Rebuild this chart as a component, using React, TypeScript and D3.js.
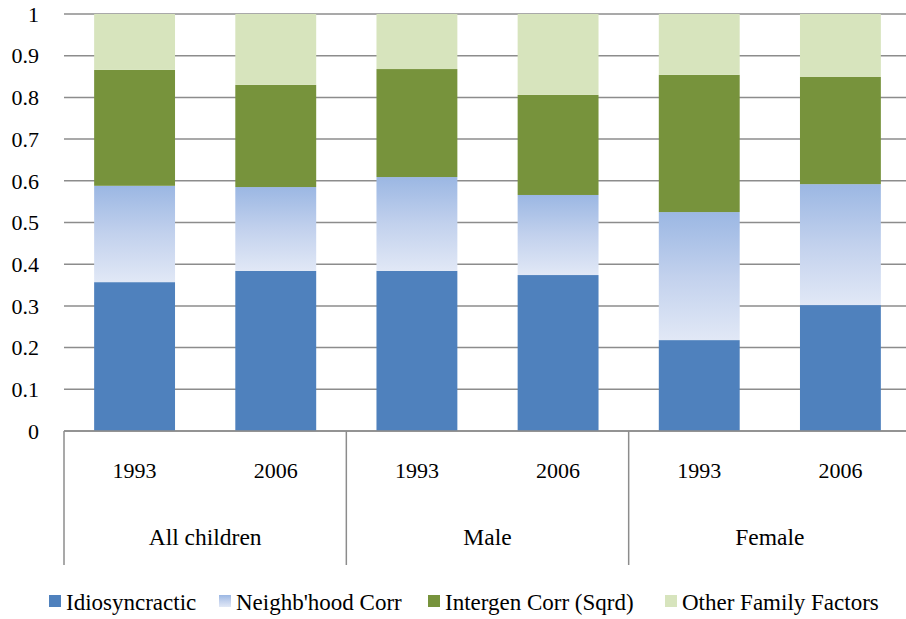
import React from "react";
import * as d3 from "d3";

const groups = ["All children", "Male", "Female"];
const years = ["1993", "2006"];
const categories = ["All children|1993", "All children|2006", "Male|1993", "Male|2006", "Female|1993", "Female|2006"];
const seriesNames = ["Idiosyncractic", "Neighb'hood Corr", "Intergen Corr (Sqrd)", "Other Family Factors"];
const idiosyncratic = [0.357, 0.384, 0.384, 0.374, 0.218, 0.302];
const neighbourhood = [0.231, 0.201, 0.225, 0.192, 0.307, 0.290];
const intergen = [0.278, 0.245, 0.259, 0.240, 0.329, 0.257];
const otherFamily = [0.134, 0.170, 0.132, 0.194, 0.146, 0.151];
const yTicks = [0, 0.1, 0.2, 0.3, 0.4, 0.5, 0.6, 0.7, 0.8, 0.9, 1];

const W = 906, H = 619;
const left = 64, right = 911, top = 14, bottom = 431;
const FONT = "'Liberation Serif', 'Times New Roman', serif";

export default function App() {
  const x = d3.scaleBand().domain(categories).range([left, right]).paddingInner(0.427).paddingOuter(0.2135);
  const y = d3.scaleLinear().domain([0, 1]).range([bottom, top]);
  const rows = categories.map((c, i) => ({
    cat: c,
    s0: idiosyncratic[i],
    s1: neighbourhood[i],
    s2: intergen[i],
    s3: otherFamily[i],
  }));
  const stack = d3.stack<any>().keys(["s0", "s1", "s2", "s3"])(rows);
  const fills = ["#4F81BD", "url(#nbGrad)", "#77933C", "#D7E4BD"];
  const catW = (right - left) / categories.length;
  const groupW = catW * 2;

  const legendX = [49, 219, 428, 665];

  return (
    <svg width={W} height={H} style={{ position: "absolute", left: 0, top: 0, background: "#fff" }} fontFamily={FONT}>
      <defs>
        <linearGradient id="nbGrad" x1="0" y1="0" x2="0" y2="1">
          <stop offset="0" stopColor="#9BB7E3" />
          <stop offset="0.5" stopColor="#C2D1ED" />
          <stop offset="1" stopColor="#E1E8F6" />
        </linearGradient>
      </defs>
      {yTicks.map((t) => (
        <g key={t}>
          <line x1={left} x2={right} y1={y(t)} y2={y(t)} stroke="#8C8C8C" strokeWidth={1.5} />
          <text x={39} y={y(t)} dy="0.35em" textAnchor="end" fontSize={22} fill="#000">
            {String(t)}
          </text>
        </g>
      ))}
      {stack.map((layer, li) => (
        <g key={li} fill={fills[li]}>
          {layer.map((d, i) => (
            <rect key={i} x={x(categories[i])} width={x.bandwidth()} y={y(d[1])} height={y(d[0]) - y(d[1])} />
          ))}
        </g>
      ))}
      <line x1={left} x2={right} y1={bottom} y2={bottom} stroke="#8C8C8C" strokeWidth={1.5} />
      {d3.range(groups.length + 1).map((g) => (
        <line key={g} x1={left + g * groupW} x2={left + g * groupW} y1={bottom} y2={565} stroke="#8C8C8C" strokeWidth={1.5} />
      ))}
      {categories.map((c, i) => (
        <text key={c} x={(x(c) as number) + x.bandwidth() / 2} y={470} dy="0.35em" textAnchor="middle" fontSize={22}>
          {years[i % 2]}
        </text>
      ))}
      {groups.map((g, i) => (
        <text key={g} x={left + (i + 0.5) * groupW} y={537} dy="0.35em" textAnchor="middle" fontSize={23.5}>
          {g}
        </text>
      ))}
      {seriesNames.map((s, i) => (
        <g key={s}>
          <rect x={legendX[i]} y={595} width={12} height={12} fill={fills[i]} />
          <text x={legendX[i] + 17} y={602} dy="0.35em" fontSize={23}>
            {s}
          </text>
        </g>
      ))}
    </svg>
  );
}
